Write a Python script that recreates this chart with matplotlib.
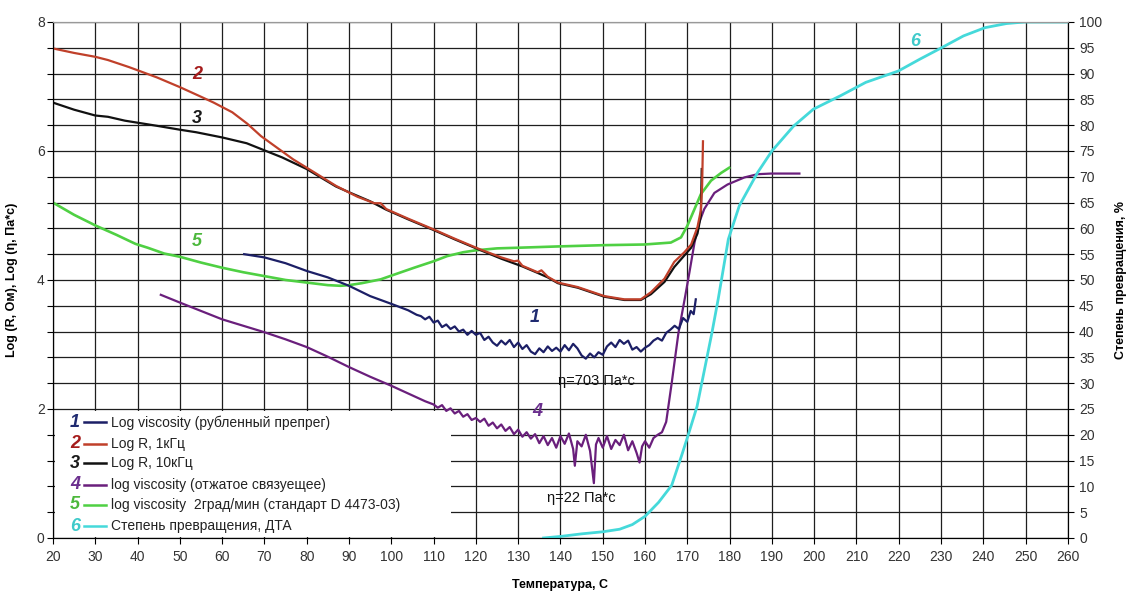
import matplotlib.pyplot as plt
from matplotlib.ticker import MultipleLocator
from matplotlib.patches import Rectangle

plt.rcParams['font.family'] = ['Liberation Sans', 'DejaVu Sans']

# ---- curve 1: log viscosity, chopped prepreg ----
t1 = [65.2, 70, 75, 80, 85, 90, 95, 100, 104, 106, 107, 108, 109, 110, 111, 112, 113, 114,
      115, 116, 117, 118, 119, 120, 121, 122, 123, 124, 125, 126, 127, 128, 129, 130, 131,
      132, 133, 134, 135, 136, 137, 138, 139, 140, 141, 142, 143, 144, 145, 146, 147, 148,
      149, 150, 151, 152, 153, 154, 155, 156, 157, 158, 159, 160, 161, 162, 163, 164, 165,
      166, 167, 168, 169, 170, 170.8, 171.5, 172]
v1 = [4.40, 4.35, 4.26, 4.14, 4.04, 3.91, 3.75, 3.63, 3.53, 3.46, 3.44, 3.39, 3.43, 3.34,
      3.37, 3.27, 3.31, 3.24, 3.28, 3.20, 3.23, 3.15, 3.21, 3.15, 3.18, 3.07, 3.12, 3.03,
      2.98, 3.06, 3.00, 3.07, 2.96, 3.03, 2.93, 2.99, 2.89, 2.85, 2.94, 2.88, 2.97, 2.90,
      2.95, 2.89, 2.99, 2.91, 3.01, 2.94, 2.83, 2.78, 2.86, 2.80, 2.88, 2.84, 2.97, 3.03,
      2.96, 3.07, 3.01, 3.06, 2.92, 2.96, 2.89, 2.95, 2.99, 3.06, 3.10, 3.06, 3.18, 3.23,
      3.29, 3.24, 3.41, 3.35, 3.52, 3.47, 3.70]

# ---- curve 2: log R, 1 kHz ----
t2 = [20, 25, 30, 33, 38, 44.6, 50, 54.7, 58, 62.4, 66, 69.2, 73, 76.8, 82, 86.9, 92, 96,
      97.5, 98.8, 104, 109.8, 115, 120.8, 126, 129, 130, 131, 134.6, 135.5, 137, 139.4,
      144.1, 150.4, 155.1, 159, 161.4, 164.6, 166.9, 169.3, 170.9, 172.4, 173.2, 173.5, 173.7]
v2 = [7.59, 7.52, 7.46, 7.41, 7.30, 7.14, 6.99, 6.85, 6.75, 6.60, 6.42, 6.23, 6.05, 5.87,
      5.66, 5.46, 5.29, 5.19, 5.19, 5.10, 4.95, 4.79, 4.64, 4.48, 4.35, 4.29, 4.30, 4.22,
      4.12, 4.15, 4.05, 3.96, 3.89, 3.75, 3.70, 3.70, 3.81, 4.02, 4.28, 4.43, 4.55, 4.82,
      5.08, 5.46, 6.15]

# ---- curve 3: log R, 10 kHz ----
t3 = [20, 25, 30, 33, 37, 44.6, 50, 53.9, 60, 65.8, 70, 74.2, 80, 86.9, 90, 95, 98.8, 104,
      109.8, 115, 120.8, 126, 131, 134.6, 137, 139.4, 144.1, 150.4, 155.1, 159, 161.4,
      164.6, 166.9, 169.3, 170.9, 172.4, 173.2, 173.4]
v3 = [6.75, 6.64, 6.55, 6.53, 6.47, 6.39, 6.33, 6.29, 6.21, 6.12, 6.01, 5.90, 5.72, 5.45,
      5.36, 5.22, 5.09, 4.94, 4.78, 4.63, 4.47, 4.33, 4.21, 4.11, 4.04, 3.95, 3.88, 3.74,
      3.69, 3.69, 3.78, 3.97, 4.20, 4.38, 4.50, 4.72, 5.00, 5.72]

# ---- curve 4: log viscosity, squeezed-out binder ----
t4 = [45.5, 50, 55, 60, 65, 70, 75, 80, 85, 90, 95, 100, 105, 108, 110, 111, 112, 113, 114,
      115, 116, 117, 118, 119, 120, 121, 122, 123, 124, 125, 126, 127, 128, 129, 130, 131,
      132, 133, 134, 135, 136, 137, 138, 139, 140, 141, 142, 143, 143.4, 144, 145, 146, 147,
      147.9, 148.4, 149, 150, 151, 152, 153, 154, 155, 156, 157, 158, 158.7, 159.3, 160, 161,
      162, 163, 164, 165, 166.3, 167.9, 169.5, 170.5, 171.7, 172.8, 174, 176.4, 179.5, 183.5,
      186.6, 189.8, 196.5]
v4 = [3.77, 3.65, 3.52, 3.39, 3.29, 3.19, 3.08, 2.96, 2.81, 2.65, 2.50, 2.36, 2.21, 2.12,
      2.07, 2.02, 2.06, 1.97, 2.01, 1.93, 1.97, 1.88, 1.92, 1.83, 1.86, 1.80, 1.85, 1.74,
      1.79, 1.70, 1.76, 1.66, 1.72, 1.61, 1.68, 1.57, 1.64, 1.54, 1.61, 1.47, 1.58, 1.44,
      1.55, 1.40, 1.58, 1.46, 1.62, 1.38, 1.12, 1.50, 1.42, 1.60, 1.35, 0.85, 1.45, 1.55,
      1.40, 1.58, 1.38, 1.52, 1.44, 1.60, 1.36, 1.50, 1.32, 1.17, 1.42, 1.50, 1.40, 1.55,
      1.60, 1.64, 1.80, 2.40, 3.18, 3.75, 4.12, 4.58, 4.89, 5.10, 5.35, 5.48, 5.59, 5.64,
      5.65, 5.65]

# ---- curve 5: log viscosity 2 deg/min (D 4473-03) ----
t5 = [20, 25, 30.2, 35, 39.5, 42.4, 46.3, 50, 55, 60, 65, 70, 75, 80, 85, 88, 90, 93, 97.5,
      101, 105.4, 110, 113.2, 117, 120, 125, 130, 139.4, 150.4, 159.8, 166.1, 168.5, 170,
      171.7, 173.2, 175.6, 178, 179.9]
v5 = [5.20, 5.01, 4.84, 4.70, 4.56, 4.50, 4.41, 4.36, 4.27, 4.19, 4.12, 4.06, 4.00, 3.96,
      3.92, 3.91, 3.92, 3.95, 4.01, 4.09, 4.19, 4.29, 4.37, 4.43, 4.46, 4.49, 4.50, 4.52,
      4.54, 4.55, 4.58, 4.66, 4.84, 5.10, 5.33, 5.54, 5.66, 5.74]

# ---- curve 6: degree of conversion (DTA), right axis, % ----
t6 = [136, 140, 145, 150, 154, 157, 160, 163.2, 166.3, 168.7, 170.3, 172.3, 174.2, 175.8,
      177.3, 179.7, 182.3, 186.6, 190, 195.1, 199.8, 206.2, 212.2, 219.9, 225, 230.1, 235.3,
      240.4, 245.5, 249.8, 260]
p6 = [0, 0.3, 0.8, 1.2, 1.7, 2.6, 4.2, 6.9, 10.2, 16.1, 20.2, 25.5, 33.2, 39.7, 46.3, 57.9,
      64.4, 70.8, 75, 79.8, 83.1, 85.7, 88.3, 90.5, 92.8, 95, 97.3, 98.9, 99.7, 100, 100]

nums = ['1', '2', '3', '4', '5', '6']
labels = ['Log viscosity (рубленный препрег)',
          'Log R, 1кГц',
          'Log R, 10кГц',
          'log viscosity (отжатое связуещее)',
          'log viscosity  2град/мин (стандарт D 4473-03)',
          'Степень превращения, ДТА']
line_colors = ['#1c1f66', '#c0402a', '#111111', '#6a1f7c', '#4fd043', '#45d9da']
num_colors = ['#1f2a70', '#a51c1c', '#1a1a1a', '#6b2f8e', '#4cb83c', '#3ecaca']

fig = plt.figure(figsize=(11.27, 5.94), dpi=100)
ax = fig.add_axes([0.047, 0.0943, 0.9006, 0.8687])
ax2 = ax.twinx()

lw = 1.6
ax.plot(t5, v5, color=line_colors[4], lw=lw + 0.3, zorder=2)
ax.plot(t4, v4, color=line_colors[3], lw=lw, zorder=3)
ax.plot(t1, v1, color=line_colors[0], lw=lw, zorder=3)
ax.plot(t3, v3, color=line_colors[2], lw=lw, zorder=3)
ax.plot(t2, v2, color=line_colors[1], lw=lw, zorder=4)
ax2.plot(t6, p6, color=line_colors[5], lw=lw + 0.4)

# axes, ticks, grid
ax.set_xlim(20, 260)
ax.set_ylim(0, 8)
ax2.set_ylim(0, 100)
ax.xaxis.set_major_locator(MultipleLocator(10))
ax.yaxis.set_major_locator(MultipleLocator(2))
ax.yaxis.set_minor_locator(MultipleLocator(0.4))
ax2.yaxis.set_major_locator(MultipleLocator(5))
ax.set_axisbelow(True)
ax.grid(True, which='both', color='#1e1e1e', lw=0.9)

ax.tick_params(axis='both', which='both', direction='out', length=4, width=0.8,
               labelsize=10, labelcolor='#333333')
ax.tick_params(axis='x', pad=5)
ax.tick_params(axis='y', pad=2)
ax2.tick_params(direction='out', length=4, width=0.8, labelsize=10,
                labelcolor='#333333', pad=4)
for a in (ax, ax2):
    for s in ('left', 'right', 'bottom'):
        a.spines[s].set_color('black')
    a.spines['top'].set_color('#999999')

ax.set_xlabel('Температура, С', fontsize=9, fontweight='bold')
ax.xaxis.set_label_coords(0.5, -0.079)
ax.set_ylabel('Log (R, Ом), Log (η, Па*с)', fontsize=9, fontweight='bold')
ax.yaxis.set_label_coords(-0.034, 0.5)
ax2.set_ylabel('Степень превращения, %', fontsize=9, fontweight='bold')
ax2.yaxis.set_label_coords(1.046, 0.5)

# curve numbers next to the curves
num_style = dict(fontsize=13, fontweight='bold', style='italic', ha='center', va='center')
ax.text(133.8, 3.42, '1', color=num_colors[0], **num_style)
ax.text(54.1, 7.19, '2', color=num_colors[1], **num_style)
ax.text(54.1, 6.51, '3', color=num_colors[2], **num_style)
ax.text(134.6, 1.96, '4', color=num_colors[3], **num_style)
ax.text(53.9, 4.60, '5', color=num_colors[4], **num_style)
ax2.text(223.8, 96.3, '6', color=num_colors[5], **num_style)

ax.text(148.4, 2.43, 'η=703 Па*с', fontsize=10.5, color='#111111', ha='center', va='center')
ax.text(144.9, 0.62, 'η=22 Па*с', fontsize=10.5, color='#111111', ha='center', va='center')

# legend block in the lower-left corner
ax.add_patch(Rectangle((0.002, 0.002), 0.39, 0.244, transform=ax.transAxes,
                       facecolor='white', edgecolor='none', zorder=1.5))
row_y = [0.224, 0.183, 0.145, 0.103, 0.064, 0.023]
for k in range(6):
    y = row_y[k]
    ax.text(0.0217, y, nums[k], transform=ax.transAxes, color=num_colors[k], **num_style)
    ax.plot([0.031, 0.052], [y, y], transform=ax.transAxes, color=line_colors[k], lw=1.8)
    ax.text(0.057, y, labels[k], transform=ax.transAxes, fontsize=10, color='#222222',
            ha='left', va='center')

ax.set_xlim(20, 260)
ax.set_ylim(0, 8)

fig.savefig('out.png', dpi=100)
